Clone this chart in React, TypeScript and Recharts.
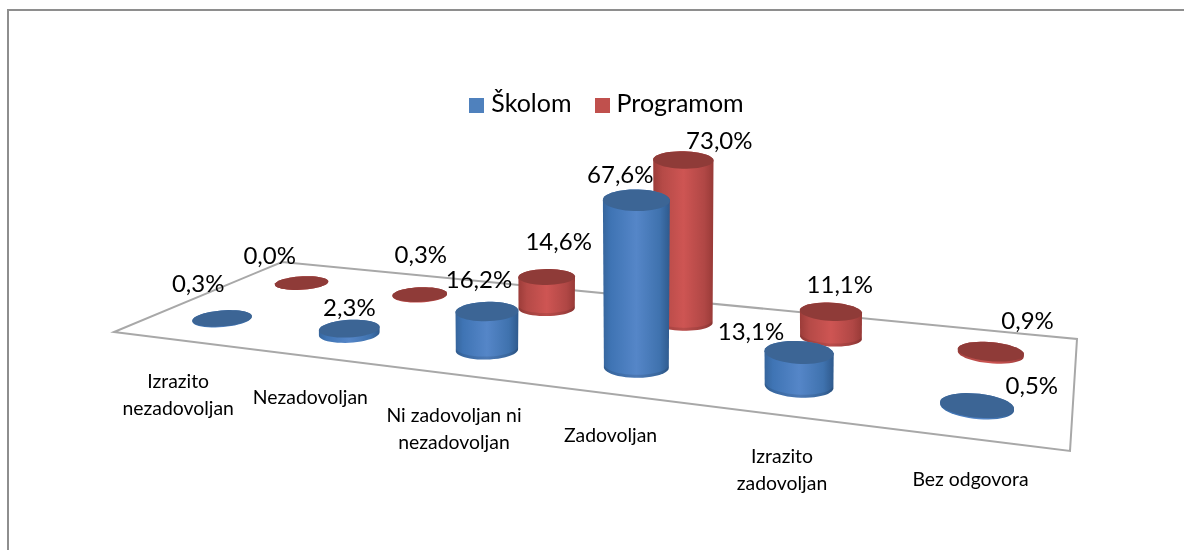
import { BarChart, Bar, XAxis, YAxis, Legend, LabelList } from "recharts";

const categories = [
  "Izrazito nezadovoljan",
  "Nezadovoljan",
  "Ni zadovoljan ni nezadovoljan",
  "Zadovoljan",
  "Izrazito zadovoljan",
  "Bez odgovora",
];
const skolom = [0.3, 2.3, 16.2, 67.6, 13.1, 0.5];
const programom = [0.0, 0.3, 14.6, 73.0, 11.1, 0.9];

// wrapped the way the original axis wraps them
const categoryLines = [
  ["Izrazito", "nezadovoljan"],
  ["Nezadovoljan"],
  ["Ni zadovoljan ni", "nezadovoljan"],
  ["Zadovoljan"],
  ["Izrazito", "zadovoljan"],
  ["Bez odgovora"],
];

const data = categories.map((name, i) => ({
  name,
  skolom: skolom[i],
  programom: programom[i],
}));

const WIDTH = 1184;
const HEIGHT = 550;
const AXIS_HEIGHT = 1;
const FONT = "Lato, Carlito, sans-serif";

// floor of the 3D chart: front-left, front-right, back-right, back-left
const [p0, p1, p2, p3] = [
  [114, 332],
  [1070, 451],
  [1077, 339],
  [282, 262],
];

// unit square -> floor quad
const dx1 = p1[0] - p2[0];
const dx2 = p3[0] - p2[0];
const sx = p0[0] - p1[0] + p2[0] - p3[0];
const dy1 = p1[1] - p2[1];
const dy2 = p3[1] - p2[1];
const sy = p0[1] - p1[1] + p2[1] - p3[1];
const det = dx1 * dy2 - dx2 * dy1;
const g = (sx * dy2 - dx2 * sy) / det;
const h = (dx1 * sy - sx * dy1) / det;
const a = p1[0] - p0[0] + g * p1[0];
const b = p3[0] - p0[0] + h * p3[0];
const d = p1[1] - p0[1] + g * p1[1];
const e = p3[1] - p0[1] + h * p3[1];

const depthOf = (u: number, v: number) => g * u + h * v + 1;
const project = (u: number, v: number) => {
  const w = depthOf(u, v);
  return [(a * u + b * v + p0[0]) / w, (d * u + e * v + p0[1]) / w];
};

const RADIUS_U = 0.033;
const RADIUS_V = 0.0987;
const RISE = 2.26 / ((HEIGHT - AXIS_HEIGHT) / 100); // chart px per percent -> floor px per percent

// circle on the floor, lifted by rise and widened slightly toward the viewer
const ring = (u: number, v: number, rise: number) => {
  const grow = 1 + rise * 0.00018;
  const pts: number[][] = [];
  for (let i = 0; i < 48; i++) {
    const t = (i / 48) * Math.PI * 2;
    const [x, y] = project(
      u + RADIUS_U * grow * Math.cos(t),
      v + RADIUS_V * grow * Math.sin(t)
    );
    pts.push([x, y - rise]);
  }
  return pts;
};

const toPath = (pts: number[][]) =>
  "M" + pts.map((p) => `${p[0].toFixed(1)},${p[1].toFixed(1)}`).join("L") + "Z";

// walk a ring from the right extreme to the left one, front side or back side
const halfRing = (pts: number[][], li: number, ri: number, front: boolean) => {
  const n = pts.length;
  const out: number[][] = [];
  if (front) {
    for (let i = ri; ; i = (i + n - 1) % n) {
      out.push(pts[i]);
      if (i === li) break;
    }
  } else {
    for (let i = li; ; i = (i + n - 1) % n) {
      out.push(pts[i]);
      if (i === ri) break;
    }
  }
  return out;
};

function Cylinder(props: any) {
  const { x, width, height, depth, side, top } = props;
  const u = (x + width / 2) / WIDTH;
  const rise = (height * RISE) / depthOf(u, depth);
  const low = ring(u, depth, 0);
  const high = ring(u, depth, rise);
  const xs = low.map((p) => p[0]);
  const li = xs.indexOf(Math.min(...xs));
  const ri = xs.indexOf(Math.max(...xs));
  const lowFront = halfRing(low, li, ri, true);
  const body = [...lowFront, ...halfRing(high, li, ri, false)];
  // slightly darker rim along the foot of the taller cylinders
  const rim = [...lowFront, ...halfRing(ring(u, depth, 3), li, ri, true).reverse()];
  return (
    <g>
      <path d={toPath(body)} fill={side} />
      {rise > 8 && <path d={toPath(rim)} fill="#000" fillOpacity={0.1} />}
      <path d={toPath(high)} fill={top} />
    </g>
  );
}

// hand-placed data labels in the original, offsets from the cylinder's top centre
const skolomLabelShift = [
  [-24, -36],
  [0, -22],
  [-8, -33],
  [-16, -27],
  [-48, -22],
  [55, -21],
];
const programomLabelShift = [
  [-32, -28],
  [1, -41],
  [12, -36],
  [36, -20],
  [9, -28],
  [37, -32],
];

function valueLabel(depth: number, shifts: number[][]) {
  return (props: any) => {
    const { x, width, height, value, index } = props;
    const u = (x + width / 2) / WIDTH;
    const rise = (height * RISE) / depthOf(u, depth);
    const [px, py] = project(u, depth);
    return (
      <text
        x={px + shifts[index][0]}
        y={py - rise + shifts[index][1]}
        textAnchor="middle"
        dominantBaseline="central"
        fontFamily={FONT}
        fontSize={24}
        fill="#000"
      >
        {value.toFixed(1).replace(".", ",") + "%"}
      </text>
    );
  };
}

function CategoryTick(props: any) {
  const { x, payload } = props;
  const [px, py] = project(x / WIDTH, 0);
  return (
    <text
      x={px + 2}
      y={py + 48}
      textAnchor="middle"
      fontFamily={FONT}
      fontSize={19.4}
      fill="#000"
    >
      {categoryLines[categories.indexOf(payload.value)].map((line, i) => (
        <tspan key={line} x={px + 2} dy={i === 0 ? 0 : 27}>
          {line}
        </tspan>
      ))}
    </text>
  );
}

const seriesOrder = ["Školom", "Programom"];

export default function App() {
  return (
    <div
      style={{
        position: "absolute",
        left: 0,
        top: 0,
        width: WIDTH,
        height: HEIGHT,
        overflow: "hidden",
        background: "#fff",
        filter: "blur(0.45px)",
      }}
    >
      <div
        style={{
          position: "absolute",
          left: 7,
          top: 9,
          width: WIDTH,
          height: HEIGHT,
          borderLeft: "2px solid #8e8e8e",
          borderTop: "2px solid #8e8e8e",
        }}
      />
      <BarChart
        width={WIDTH}
        height={HEIGHT}
        data={data}
        margin={{ top: 0, right: 0, bottom: 0, left: 0 }}
        style={{ position: "absolute", left: 0, top: 0 }}
      >
        <defs>
          <linearGradient id="blueSide" x1="0" y1="0" x2="1" y2="0">
            <stop offset="0" stopColor="#36659c" />
            <stop offset="0.12" stopColor="#3f74b4" />
            <stop offset="0.5" stopColor="#5586c8" />
            <stop offset="0.85" stopColor="#3f72ae" />
            <stop offset="1" stopColor="#2f5a8d" />
          </linearGradient>
          <linearGradient id="redSide" x1="0" y1="0" x2="1" y2="0">
            <stop offset="0" stopColor="#9c3c39" />
            <stop offset="0.15" stopColor="#b54a47" />
            <stop offset="0.5" stopColor="#ce5553" />
            <stop offset="0.85" stopColor="#b04745" />
            <stop offset="1" stopColor="#983a37" />
          </linearGradient>
        </defs>
        <polygon
          points={[p0, p1, p2, p3].map((p) => p.join(",")).join(" ")}
          fill="#fff"
          stroke="#a8a8a8"
          strokeWidth={2}
        />
        <XAxis
          dataKey="name"
          height={AXIS_HEIGHT}
          interval={0}
          axisLine={false}
          tickLine={false}
          tick={<CategoryTick />}
        />
        <XAxis dataKey="name" xAxisId="back" hide />
        <YAxis domain={[0, 100]} hide />
        <Legend
          layout="horizontal"
          verticalAlign="middle"
          align="center"
          iconType="square"
          iconSize={15}
          itemSorter={(item: any) => seriesOrder.indexOf(item.value)}
          wrapperStyle={{ left: 458, top: 84, width: 320 }}
          formatter={(value: string) => (
            <span
              style={{
                color: "#000",
                fontFamily: FONT,
                fontSize: 25,
                marginLeft: 3,
                marginRight: 13,
                position: "relative",
                top: 3,
              }}
            >
              {value}
            </span>
          )}
        />
        <Bar
          dataKey="programom"
          name="Programom"
          xAxisId="back"
          fill="#C0504D"
          isAnimationActive={false}
          shape={<Cylinder depth={0.75} side="url(#redSide)" top="#8f3b38" />}
        >
          <LabelList content={valueLabel(0.75, programomLabelShift)} />
        </Bar>
        <Bar
          dataKey="skolom"
          name="Školom"
          fill="#4F81BD"
          isAnimationActive={false}
          shape={<Cylinder depth={0.25} side="url(#blueSide)" top="#3c6595" />}
        >
          <LabelList content={valueLabel(0.25, skolomLabelShift)} />
        </Bar>
      </BarChart>
    </div>
  );
}
